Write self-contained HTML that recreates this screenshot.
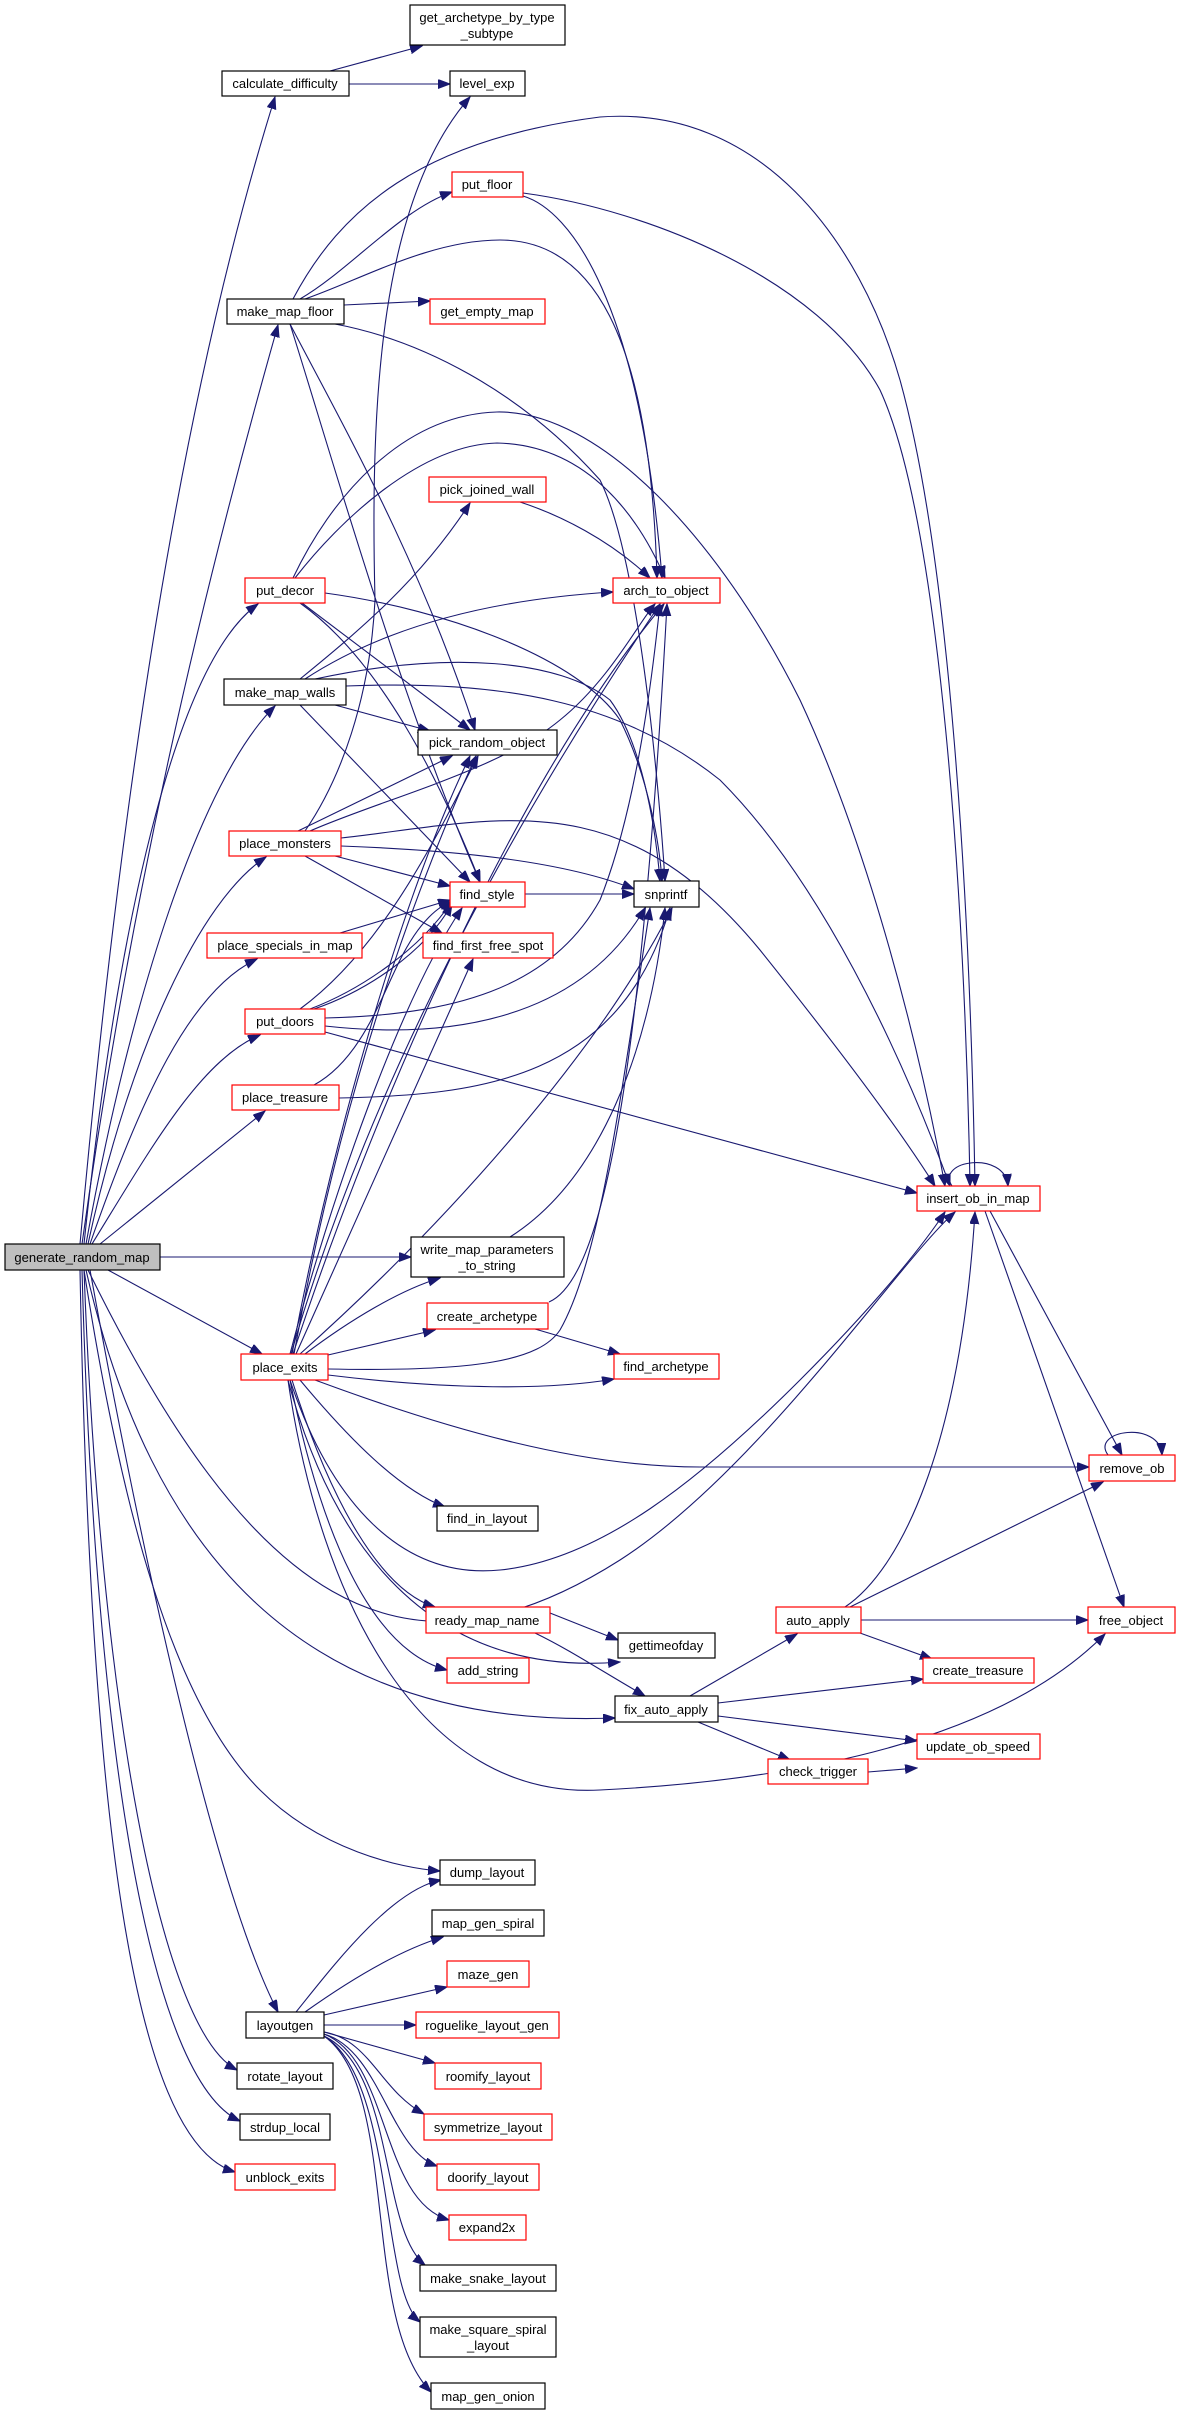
<!DOCTYPE html>
<html><head><meta charset="utf-8"><style>
html,body{margin:0;padding:0;background:#fff;}
svg{display:block;}
text{font-family:"Liberation Sans",sans-serif;font-size:13px;fill:#000;}
.e{fill:none;stroke:#191970;stroke-width:1.1;marker-end:url(#a);}
.n{fill:none;stroke:#191970;stroke-width:1.1;}
.b{fill:#fff;stroke:#000;stroke-width:1.2;}
.r{fill:#fff;stroke:#ff0000;stroke-width:1.2;}
</style></head><body>
<svg width="1181" height="2415" viewBox="0 0 1181 2415" xmlns="http://www.w3.org/2000/svg">
<defs><marker id="a" markerUnits="userSpaceOnUse" markerWidth="13" markerHeight="10" refX="12" refY="4.5" orient="auto"><path d="M0,0 L12,4.5 L0,9 z" fill="#191970" stroke="#191970"/></marker></defs>

<!-- GRM edges -->
<path class="e" d="M80 1244 C120 800,180 400,275 97"/>
<path class="e" d="M82 1244 C130 900,200 600,278 325"/>
<path class="e" d="M84 1244 C120 900,180 660,258 604"/>
<path class="e" d="M86 1244 C130 1000,200 780,275 706"/>
<path class="e" d="M88 1244 C130 1050,200 900,266 857"/>
<path class="e" d="M90 1244 C140 1100,190 990,257 959"/>
<path class="e" d="M92 1244 C150 1150,200 1060,260 1035"/>
<path class="e" d="M100 1244 L265 1111"/>
<path class="e" d="M160 1257 L411 1257"/>
<path class="e" d="M108 1270 L262 1354"/>
<path class="e" d="M88 1270 C250 1600,400 1700,620 1560 C760 1470,900 1260,955 1212"/>
<path class="e" d="M86 1270 C150 1550,300 1730,615 1718"/>
<path class="e" d="M84 1270 C120 1500,170 1700,260 1790 C320 1850,400 1868,440 1871"/>
<path class="e" d="M90 1270 C150 1600,220 1900,278 2012"/>
<path class="e" d="M84 1270 C100 1700,160 2030,237 2070"/>
<path class="e" d="M82 1270 C95 1750,150 2080,240 2121"/>
<path class="e" d="M80 1270 C90 1800,130 2140,235 2172"/>

<!-- calc -->
<path class="e" d="M330 71 L422 46"/>
<path class="e" d="M349 84 L450 84"/>
<!-- make_map_floor -->
<path class="e" d="M300 299 C350 270,400 210,452 192"/>
<path class="e" d="M344 305 L430 301"/>
<path class="e" d="M293 299 C340 210,420 140,600 117 C760 105,860 240,900 380 C950 560,970 900,975 1186"/>
<path class="e" d="M305 299 C360 280,430 240,500 240 C590 240,650 330,657 578"/>
<path class="e" d="M335 324 C420 340,520 390,600 480 C640 560,660 800,665 881"/>
<path class="e" d="M290 324 C340 420,420 560,475 730"/>
<path class="e" d="M290 324 C330 450,400 700,480 882"/>
<!-- put_floor -->
<path class="e" d="M523 193 C650 210,820 280,880 390 C940 520,965 900,970 1186"/>
<path class="e" d="M523 196 C570 210,640 300,662 578"/>
<!-- put_decor -->
<path class="e" d="M293 578 C330 500,400 415,497 412 C600 410,720 540,800 700 C870 850,920 1050,945 1186"/>
<path class="e" d="M295 578 C340 520,420 445,497 443 C590 445,640 520,665 578"/>
<path class="e" d="M302 603 L470 730"/>
<path class="e" d="M300 603 C380 660,440 780,480 882"/>
<path class="e" d="M325 593 C450 610,580 660,620 720 C650 780,660 850,662 881"/>
<!-- pick_joined_wall -->
<path class="e" d="M520 502 C560 515,610 540,650 578"/>
<!-- make_map_walls -->
<path class="e" d="M300 679 C360 630,420 580,470 503"/>
<path class="e" d="M305 679 C380 630,480 600,613 592"/>
<path class="e" d="M335 705 L430 731"/>
<path class="e" d="M300 705 L470 882"/>
<path class="e" d="M315 679 C450 650,560 660,610 700 C640 740,655 820,660 881"/>
<path class="e" d="M346 686 C500 680,620 700,720 780 C820 880,900 1050,950 1186"/>
<!-- place_monsters -->
<path class="e" d="M305 831 C340 780,370 700,375 600 C370 400,380 200,470 97"/>
<path class="e" d="M310 831 C380 800,500 770,560 720 C610 680,640 620,655 604"/>
<path class="e" d="M298 831 L452 756"/>
<path class="e" d="M335 856 L450 886"/>
<path class="e" d="M341 846 C450 850,560 860,634 889"/>
<path class="e" d="M305 856 L442 933"/>
<path class="e" d="M341 838 C500 820,620 780,760 950 C840 1050,900 1130,935 1186"/>
<!-- specials -->
<path class="e" d="M340 933 L450 900"/>
<!-- put_doors -->
<path class="e" d="M310 1009 C360 990,420 950,452 901"/>
<path class="e" d="M314 1009 C364 992,424 954,452 904"/>
<path class="e" d="M300 1009 C380 950,430 850,478 756"/>
<path class="e" d="M325 1018 C450 1015,550 990,600 900 C640 800,655 650,660 604"/>
<path class="e" d="M325 1026 C450 1040,580 1020,645 908"/>
<path class="e" d="M325 1032 L917 1193"/>
<!-- place_treasure -->
<path class="e" d="M314 1085 C360 1060,380 1000,400 960 C420 920,440 905,452 902"/>
<path class="e" d="M339 1098 C480 1095,620 1080,670 908"/>
<!-- place_exits -->
<path class="e" d="M290 1354 C330 1200,400 1000,462 908"/>
<path class="e" d="M292 1354 C330 1150,400 900,470 756"/>
<path class="e" d="M294 1354 C340 1100,410 900,476 756"/>
<path class="e" d="M291 1354 C350 1150,460 900,660 604"/>
<path class="e" d="M293 1354 C360 1150,500 800,664 604"/>
<path class="e" d="M300 1354 C450 1220,600 1050,672 908"/>
<path class="e" d="M296 1354 L473 959"/>
<path class="e" d="M305 1354 C350 1320,400 1290,440 1278"/>
<path class="e" d="M328 1355 L435 1330"/>
<path class="e" d="M328 1375 C450 1390,550 1390,614 1379"/>
<path class="e" d="M328 1369 C480 1372,540 1360,560 1330 C600 1260,620 1100,650 908"/>
<path class="e" d="M315 1380 C450 1430,580 1467,700 1467 L1089 1467"/>
<path class="e" d="M300 1380 C350 1440,400 1490,445 1507"/>
<path class="e" d="M290 1380 C330 1500,400 1580,500 1570 C600 1560,700 1480,800 1380 C870 1310,920 1250,945 1212"/>
<path class="e" d="M292 1380 C330 1500,380 1590,435 1607"/>
<path class="e" d="M290 1380 C320 1530,370 1650,447 1670"/>
<path class="e" d="M288 1380 C320 1500,400 1680,620 1662"/>
<path class="e" d="M288 1380 C320 1600,420 1800,600 1790 C800 1780,1000 1740,1105 1634"/>
<!-- create_archetype / wmp -->
<path class="e" d="M549 1302 C600 1280,640 1100,667 604"/>
<path class="e" d="M535 1329 L620 1354"/>
<path class="e" d="M510 1237 C600 1180,650 1050,665 908"/>
<!-- find_style -> snprintf -->
<path class="e" d="M525 894 L634 894"/>
<!-- ready_map_name -->
<path class="e" d="M550 1613 L618 1640"/>
<path class="e" d="M535 1633 C570 1650,600 1670,645 1696"/>
<!-- fix_auto_apply -->
<path class="e" d="M690 1696 L797 1634"/>
<path class="e" d="M718 1703 L923 1679"/>
<path class="e" d="M718 1716 L917 1741"/>
<path class="e" d="M698 1722 L790 1760"/>
<path class="e" d="M868 1772 L917 1768"/>
<!-- auto_apply -->
<path class="e" d="M845 1607 C900 1570,960 1450,975 1212"/>
<path class="e" d="M850 1607 L1103 1482"/>
<path class="e" d="M861 1620 L1088 1620"/>
<path class="e" d="M860 1633 L932 1659"/>
<!-- insert -->
<path class="e" d="M990 1211 L1122 1455"/>
<path class="e" d="M985 1211 L1124 1607"/>
<path class="e" d="M952 1186 C935 1160,1005 1150,1008 1186"/>
<path class="e" d="M1108 1455 C1090 1430,1160 1420,1162 1455"/>
<!-- layoutgen -->
<path class="e" d="M296 2012 C330 1970,390 1890,441 1880"/>
<path class="e" d="M305 2012 C350 1980,400 1950,443 1937"/>
<path class="e" d="M324 2015 L447 1987"/>
<path class="e" d="M324 2025 L416 2025"/>
<path class="e" d="M324 2032 L435 2063"/>
<path class="e" d="M324 2032 C370 2040,380 2090,424 2114"/>
<path class="e" d="M324 2034 C380 2050,390 2150,437 2166"/>
<path class="e" d="M324 2034 C390 2060,380 2200,449 2220"/>
<path class="e" d="M324 2036 C395 2070,380 2230,425 2265"/>
<path class="e" d="M324 2036 C395 2080,380 2290,420 2322"/>
<path class="e" d="M324 2036 C400 2090,360 2320,431 2392"/>

<!-- nodes -->
<g>
<rect class="b" x="5" y="1244" width="155" height="26" style="fill:#bfbfbf"/><text x="82" y="1262" text-anchor="middle">generate_random_map</text>
<rect class="b" x="410" y="5" width="155" height="40"/><text x="487" y="22" text-anchor="middle">get_archetype_by_type</text><text x="487" y="38" text-anchor="middle">_subtype</text>
<rect class="b" x="222" y="71" width="127" height="25"/><text x="285" y="88" text-anchor="middle">calculate_difficulty</text>
<rect class="b" x="450" y="71" width="75" height="25"/><text x="487" y="88" text-anchor="middle">level_exp</text>
<rect class="r" x="452" y="172" width="71" height="25"/><text x="487" y="189" text-anchor="middle">put_floor</text>
<rect class="b" x="227" y="299" width="117" height="25"/><text x="285" y="316" text-anchor="middle">make_map_floor</text>
<rect class="r" x="430" y="299" width="115" height="25"/><text x="487" y="316" text-anchor="middle">get_empty_map</text>
<rect class="r" x="429" y="477" width="117" height="25"/><text x="487" y="494" text-anchor="middle">pick_joined_wall</text>
<rect class="r" x="613" y="578" width="107" height="25"/><text x="666" y="595" text-anchor="middle">arch_to_object</text>
<rect class="r" x="245" y="578" width="80" height="25"/><text x="285" y="595" text-anchor="middle">put_decor</text>
<rect class="b" x="224" y="679" width="122" height="26"/><text x="285" y="697" text-anchor="middle">make_map_walls</text>
<rect class="b" x="418" y="730" width="139" height="25"/><text x="487" y="747" text-anchor="middle">pick_random_object</text>
<rect class="r" x="229" y="831" width="112" height="25"/><text x="285" y="848" text-anchor="middle">place_monsters</text>
<rect class="r" x="450" y="882" width="75" height="25"/><text x="487" y="899" text-anchor="middle">find_style</text>
<rect class="b" x="634" y="881" width="65" height="26"/><text x="666" y="899" text-anchor="middle">snprintf</text>
<rect class="r" x="207" y="933" width="155" height="25"/><text x="285" y="950" text-anchor="middle">place_specials_in_map</text>
<rect class="r" x="423" y="933" width="130" height="25"/><text x="488" y="950" text-anchor="middle">find_first_free_spot</text>
<rect class="r" x="245" y="1009" width="80" height="25"/><text x="285" y="1026" text-anchor="middle">put_doors</text>
<rect class="r" x="232" y="1085" width="107" height="25"/><text x="285" y="1102" text-anchor="middle">place_treasure</text>
<rect class="b" x="411" y="1237" width="153" height="40"/><text x="487" y="1254" text-anchor="middle">write_map_parameters</text><text x="487" y="1270" text-anchor="middle">_to_string</text>
<rect class="r" x="427" y="1303" width="121" height="26"/><text x="487" y="1321" text-anchor="middle">create_archetype</text>
<rect class="r" x="241" y="1354" width="87" height="26"/><text x="285" y="1372" text-anchor="middle">place_exits</text>
<rect class="r" x="917" y="1186" width="123" height="25"/><text x="978" y="1203" text-anchor="middle">insert_ob_in_map</text>
<rect class="r" x="614" y="1354" width="105" height="25"/><text x="666" y="1371" text-anchor="middle">find_archetype</text>
<rect class="r" x="1089" y="1455" width="86" height="26"/><text x="1132" y="1473" text-anchor="middle">remove_ob</text>
<rect class="b" x="437" y="1506" width="101" height="25"/><text x="487" y="1523" text-anchor="middle">find_in_layout</text>
<rect class="r" x="426" y="1607" width="124" height="26"/><text x="487" y="1625" text-anchor="middle">ready_map_name</text>
<rect class="r" x="776" y="1607" width="85" height="26"/><text x="818" y="1625" text-anchor="middle">auto_apply</text>
<rect class="r" x="1088" y="1607" width="87" height="26"/><text x="1131" y="1625" text-anchor="middle">free_object</text>
<rect class="b" x="618" y="1633" width="97" height="25"/><text x="666" y="1650" text-anchor="middle">gettimeofday</text>
<rect class="r" x="447" y="1658" width="82" height="25"/><text x="488" y="1675" text-anchor="middle">add_string</text>
<rect class="r" x="923" y="1658" width="111" height="25"/><text x="978" y="1675" text-anchor="middle">create_treasure</text>
<rect class="b" x="615" y="1696" width="103" height="26"/><text x="666" y="1714" text-anchor="middle">fix_auto_apply</text>
<rect class="r" x="917" y="1734" width="123" height="25"/><text x="978" y="1751" text-anchor="middle">update_ob_speed</text>
<rect class="r" x="768" y="1759" width="100" height="25"/><text x="818" y="1776" text-anchor="middle">check_trigger</text>
<rect class="b" x="440" y="1860" width="95" height="25"/><text x="487" y="1877" text-anchor="middle">dump_layout</text>
<rect class="b" x="432" y="1910" width="112" height="26"/><text x="488" y="1928" text-anchor="middle">map_gen_spiral</text>
<rect class="r" x="447" y="1961" width="82" height="26"/><text x="488" y="1979" text-anchor="middle">maze_gen</text>
<rect class="b" x="246" y="2012" width="78" height="26"/><text x="285" y="2030" text-anchor="middle">layoutgen</text>
<rect class="r" x="416" y="2012" width="143" height="26"/><text x="487" y="2030" text-anchor="middle">roguelike_layout_gen</text>
<rect class="b" x="237" y="2063" width="96" height="26"/><text x="285" y="2081" text-anchor="middle">rotate_layout</text>
<rect class="r" x="435" y="2063" width="106" height="26"/><text x="488" y="2081" text-anchor="middle">roomify_layout</text>
<rect class="b" x="240" y="2114" width="90" height="26"/><text x="285" y="2132" text-anchor="middle">strdup_local</text>
<rect class="r" x="424" y="2114" width="128" height="26"/><text x="488" y="2132" text-anchor="middle">symmetrize_layout</text>
<rect class="r" x="235" y="2164" width="100" height="26"/><text x="285" y="2182" text-anchor="middle">unblock_exits</text>
<rect class="r" x="437" y="2164" width="102" height="26"/><text x="488" y="2182" text-anchor="middle">doorify_layout</text>
<rect class="r" x="449" y="2215" width="77" height="25"/><text x="487" y="2232" text-anchor="middle">expand2x</text>
<rect class="b" x="420" y="2265" width="136" height="26"/><text x="488" y="2283" text-anchor="middle">make_snake_layout</text>
<rect class="b" x="420" y="2317" width="136" height="40"/><text x="488" y="2334" text-anchor="middle">make_square_spiral</text><text x="488" y="2350" text-anchor="middle">_layout</text>
<rect class="b" x="431" y="2383" width="114" height="26"/><text x="488" y="2401" text-anchor="middle">map_gen_onion</text>
</g>
</svg>
</body></html>
